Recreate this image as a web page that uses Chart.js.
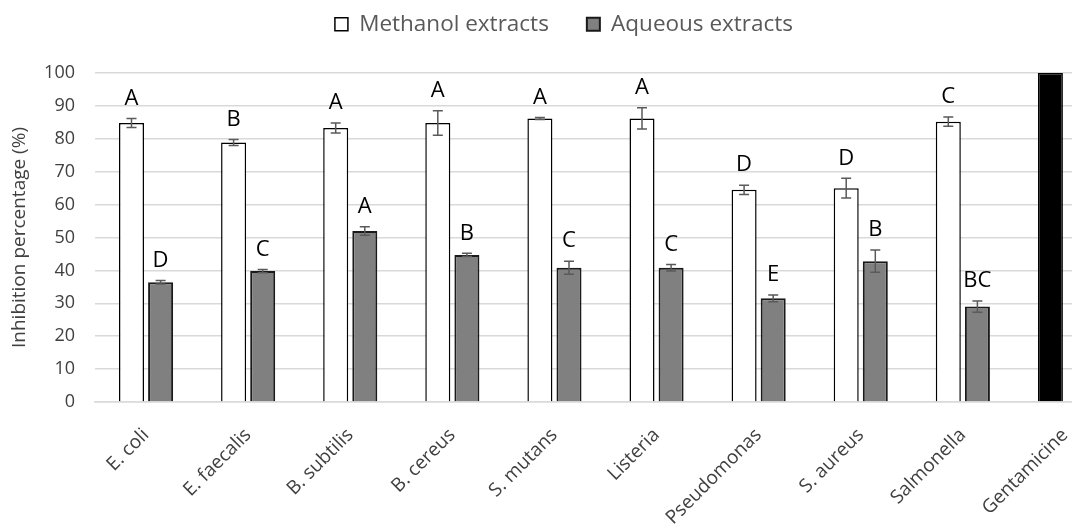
<!DOCTYPE html>
<html>
<head>
<meta charset="utf-8">
<script src="https://cdn.jsdelivr.net/npm/chart.js@4/dist/chart.umd.min.js"></script>
<style>
  html, body { margin: 0; padding: 0; background: #fff; overflow: hidden; }
  #wrap { width: 1126px; height: 528px; }
</style>
</head>
<body>
<div id="wrap"><canvas id="chart" width="1126" height="528"></canvas></div>
<script>
// categories (bacteria + reference antibiotic)
const categories = ['E. coli', 'E. faecalis', 'B. subtilis', 'B. cereus', 'S. mutans',
  'Listeria', 'Pseudomonas', 'S. aureus', 'Salmonella', 'Gentamicine'];

// inhibition percentages
const methanolValues = [84.8, 78.9, 83.3, 84.8, 86.2, 86.2, 64.5, 65.0, 85.2, 100];
const methanolErrors = [1.4, 0.9, 1.5, 3.7, 0.3, 3.2, 1.4, 3.0, 1.4, null];
const aqueousValues = [36.4, 39.8, 52.0, 44.7, 40.8, 40.8, 31.5, 42.8, 29.0, null];
const aqueousErrors = [0.5, 0.5, 1.3, 0.5, 2.0, 1.0, 1.0, 3.4, 1.7, null];

// significance letters above each bar
const methanolLetters = ['A', 'B', 'A', 'A', 'A', 'A', 'D', 'D', 'C', ''];
const aqueousLetters = ['D', 'C', 'A', 'B', 'C', 'C', 'E', 'B', 'BC', ''];

Chart.defaults.font.family = "'Open Sans', sans-serif";
Chart.defaults.color = '#595959';

// draws error bars and letters on top of the bars
const errorBarsAndLetters = {
  id: 'errorBarsAndLetters',
  afterDatasetsDraw(chart) {
    const ctx = chart.ctx;
    const y = chart.scales.y;
    const sets = [
      { values: methanolValues, errors: methanolErrors, letters: methanolLetters },
      { values: aqueousValues, errors: aqueousErrors, letters: aqueousLetters }
    ];
    sets.forEach((set, di) => {
      const meta = chart.getDatasetMeta(di);
      meta.data.forEach((bar, i) => {
        const v = set.values[i];
        if (v === null) return;
        const e = set.errors[i] || 0;
        const top = y.getPixelForValue(v + e);
        const bottom = y.getPixelForValue(v - e);
        if (e > 0) {
          ctx.save();
          ctx.strokeStyle = '#5a5a5a';
          ctx.lineWidth = 1.5;
          ctx.beginPath();
          ctx.moveTo(bar.x, top);
          ctx.lineTo(bar.x, bottom);
          ctx.moveTo(bar.x - 5, top);
          ctx.lineTo(bar.x + 5, top);
          ctx.moveTo(bar.x - 5, bottom);
          ctx.lineTo(bar.x + 5, bottom);
          ctx.stroke();
          ctx.restore();
        }
        if (set.letters[i]) {
          ctx.save();
          ctx.fillStyle = '#000';
          ctx.font = "22px 'Open Sans', sans-serif";
          ctx.textAlign = 'center';
          ctx.textBaseline = 'bottom';
          ctx.fillText(set.letters[i], bar.x, top - 9);
          ctx.restore();
        }
      });
    });
  }
};

// fixes the legend block height (plot starts at the 100 line of the figure)
// and nudges the centred legend row to the right
const legendFit = {
  id: 'legendFit',
  beforeInit(chart) {
    const fit = chart.legend.fit;
    chart.legend.fit = function () {
      fit.call(this);
      this.height = 98;
      if (this.lineWidths && this.lineWidths.length) this.lineWidths[0] -= 12;
    };
  }
};

new Chart('chart', {
  type: 'bar',
  data: {
    labels: categories,
    datasets: [
      {
        label: 'Methanol extracts',
        data: methanolValues,
        backgroundColor: ctx => (ctx.dataIndex === 9 ? '#000000' : '#ffffff'),
        borderColor: '#000000',
        borderWidth: 1.5,
        categoryPercentage: 0.57,
        barPercentage: 0.86
      },
      {
        label: 'Aqueous extracts',
        data: aqueousValues,
        backgroundColor: '#808080',
        borderColor: '#1a1a1a',
        borderWidth: 2,
        categoryPercentage: 0.57,
        barPercentage: 0.86
      }
    ]
  },
  options: {
    responsive: false,
    animation: false,
    layout: { padding: { top: -25, right: 10, left: 0, bottom: 0 } },
    scales: {
      x: {
        grid: { display: false },
        border: { color: '#d9d9d9', width: 1.5 },
        ticks: {
          font: { size: 19 },
          color: '#404040',
          minRotation: 45,
          maxRotation: 45,
          padding: 14
        },
        afterFit(scale) { scale.height = 126; }
      },
      y: {
        min: 0,
        max: 100,
        ticks: { stepSize: 10, font: { size: 18 }, padding: 20, color: '#404040' },
        grid: { color: '#d9d9d9', lineWidth: 1.5, drawTicks: false },
        border: { display: false },
        title: {
          display: true,
          text: 'Inhibition percentage (%)',
          font: { size: 19 },
          color: '#404040',
          padding: { top: 8, bottom: 4 }
        },
        afterFit(scale) { scale.width = 95; }
      }
    },
    plugins: {
      legend: {
        position: 'top',
        labels: {
          boxWidth: 13,
          boxHeight: 13,
          padding: 38,
          font: { size: 22.5 },
          color: '#595959'
        }
      },
      tooltip: { enabled: false }
    }
  },
  plugins: [errorBarsAndLetters, legendFit]
});
</script>
</body>
</html>
